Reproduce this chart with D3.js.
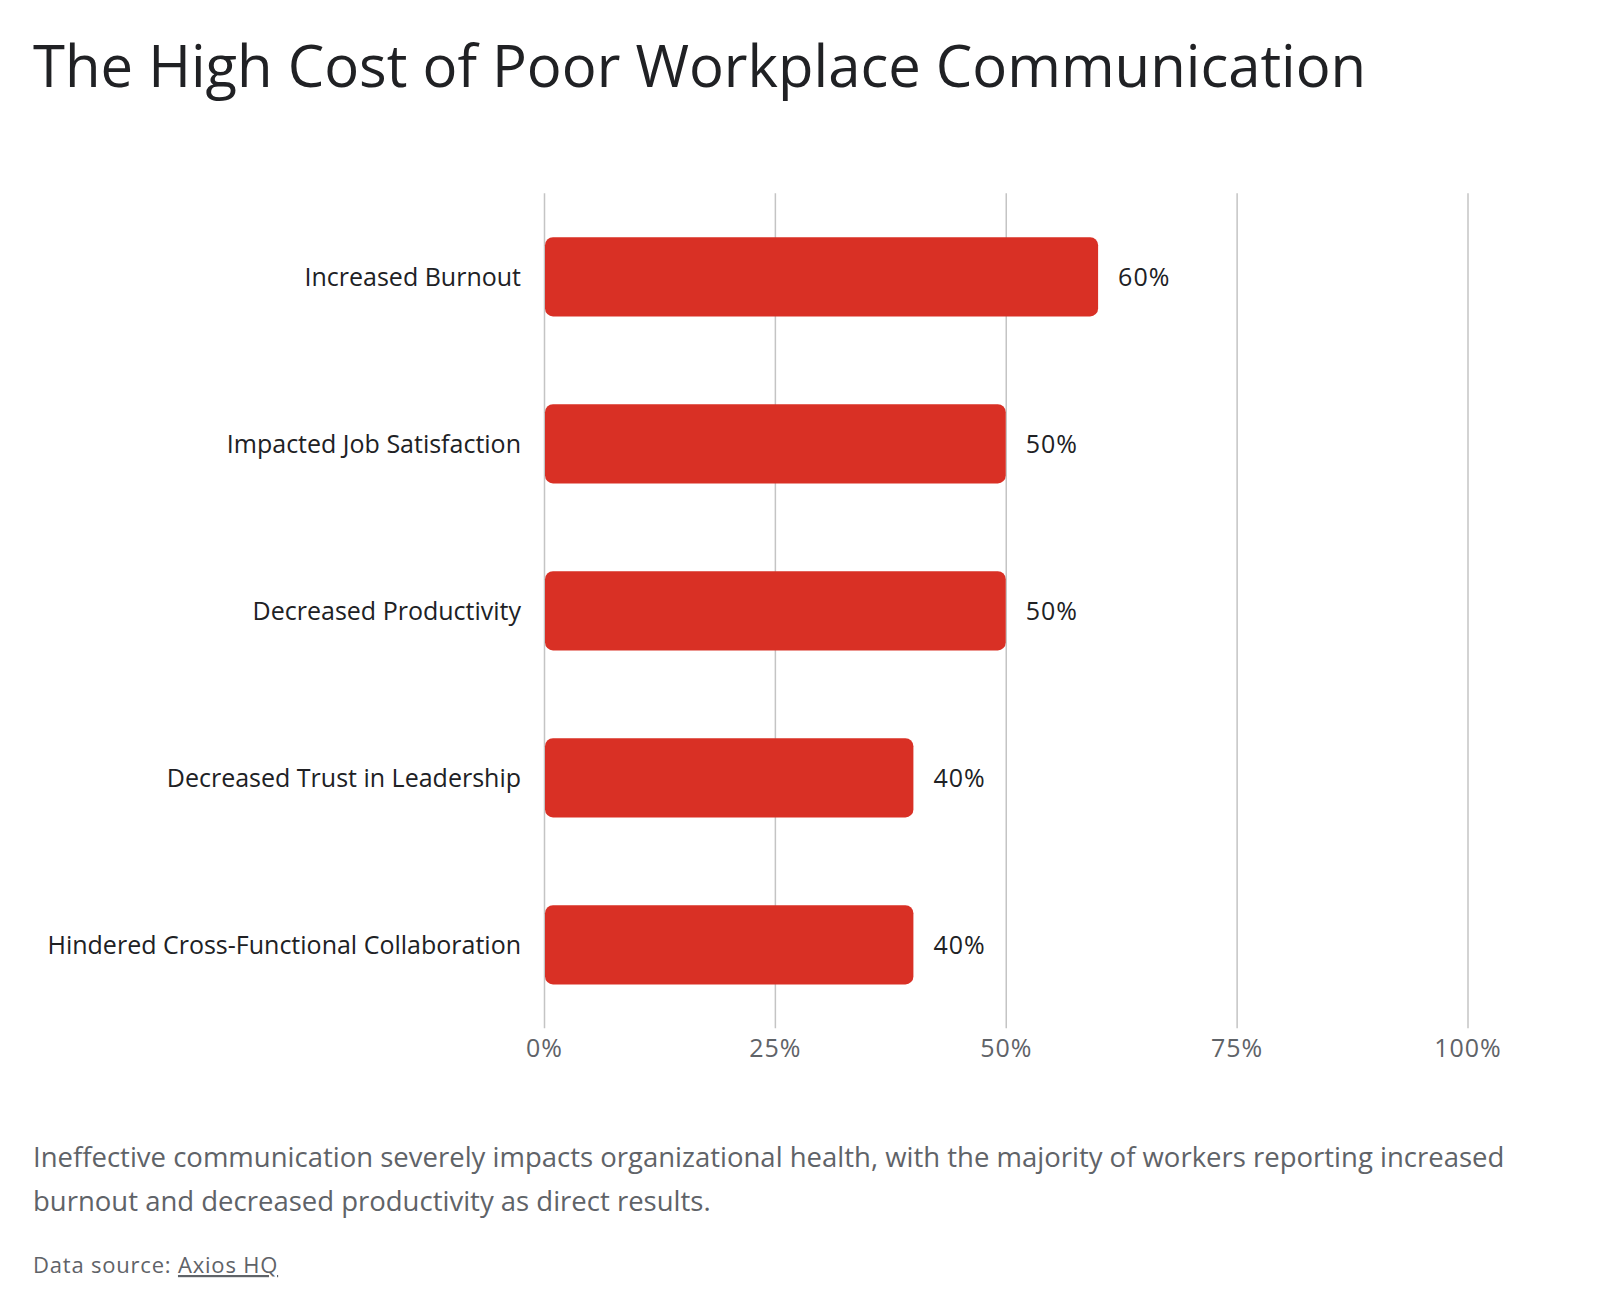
<!DOCTYPE html>
<html>
<head>
<meta charset="utf-8">
<script src="https://cdn.jsdelivr.net/npm/d3@7"></script>
<style>
  body { margin: 0; background: #fff; }
  svg text { font-family: "Open Sans", Roboto, sans-serif; }
</style>
</head>
<body>
<svg id="chart"></svg>
<script>
const title = "The High Cost of Poor Workplace Communication";
const categories = [
  "Increased Burnout",
  "Impacted Job Satisfaction",
  "Decreased Productivity",
  "Decreased Trust in Leadership",
  "Hindered Cross-Functional Collaboration",
];
const values = [60, 50, 50, 40, 40];
const tickValues = [0, 25, 50, 75, 100];
const noteLines = [
  "Ineffective communication severely impacts organizational health, with the majority of workers reporting increased",
  "burnout and decreased productivity as direct results.",
];
const sourceLabel = "Data source: ";
const sourceName = "Axios HQ";

const [width, height] = [1600, 1314];
const textColor = "#202124";
const greyText = "#5f6368";
const barColor = "#d93025";

const svg = d3.select("#chart").attr("width", width).attr("height", height);

const x = d3.scaleLinear().domain([0, 100]).range([544, 1467.5]);
const y = d3.scaleBand()
  .domain(categories)
  .range([193.3, 1028.3])
  .paddingInner(0.525)
  .paddingOuter(0.2625);

svg.append("text")
  .attr("x", 33)
  .attr("y", 87)
  .attr("fill", textColor)
  .style("font-size", "58px")
  .text(title);

// grid + ticks
const axis = svg.append("g")
  .attr("transform", `translate(0,${y.range()[1]})`)
  .call(d3.axisBottom(x)
    .tickValues(tickValues)
    .tickSize(-(y.range()[1] - y.range()[0]))
    .tickFormat((d) => d + "%"));
axis.select(".domain").remove();
axis.selectAll(".tick line").attr("stroke", "#c4c4c4").attr("stroke-width", 1.5);
axis.selectAll(".tick text")
  .attr("y", 20)
  .attr("dy", "0.35em")
  .attr("fill", greyText)
  .style("font-size", "25px")
  .style("letter-spacing", "1px");

const rows = categories.map((c, i) => ({ label: c, value: values[i] }));

svg.append("g").selectAll("rect")
  .data(rows)
  .enter()
  .append("rect")
  .attr("x", x(0) + 1)
  .attr("y", (d) => y(d.label))
  .attr("width", (d) => x(d.value) - x(0) - 1)
  .attr("height", y.bandwidth())
  .attr("rx", 8)
  .attr("fill", barColor);

svg.append("g").selectAll("text")
  .data(rows)
  .enter()
  .append("text")
  .attr("x", x(0) - 23)
  .attr("y", (d) => y(d.label) + y.bandwidth() / 2)
  .attr("dy", "0.35em")
  .attr("text-anchor", "end")
  .attr("fill", textColor)
  .style("font-size", "25px")
  .text((d) => d.label);

svg.append("g").selectAll("text")
  .data(rows)
  .enter()
  .append("text")
  .attr("x", (d) => x(d.value) + 20)
  .attr("y", (d) => y(d.label) + y.bandwidth() / 2)
  .attr("dy", "0.35em")
  .attr("fill", textColor)
  .style("font-size", "25px")
  .style("letter-spacing", "1px")
  .text((d) => d.value + "%");

svg.append("g").selectAll("text")
  .data(noteLines)
  .enter()
  .append("text")
  .attr("x", 33)
  .attr("y", (d, i) => 1167 + i * 44)
  .attr("fill", greyText)
  .style("font-size", "27.5px")
  .text((d) => d);

const src = svg.append("text")
  .attr("x", 33)
  .attr("y", 1273)
  .attr("fill", greyText)
  .style("font-size", "22px")
  .style("letter-spacing", "0.8px");
src.append("tspan").text(sourceLabel);
src.append("tspan")
  .style("text-decoration", "underline")
  .text(sourceName);
</script>
</body>
</html>
